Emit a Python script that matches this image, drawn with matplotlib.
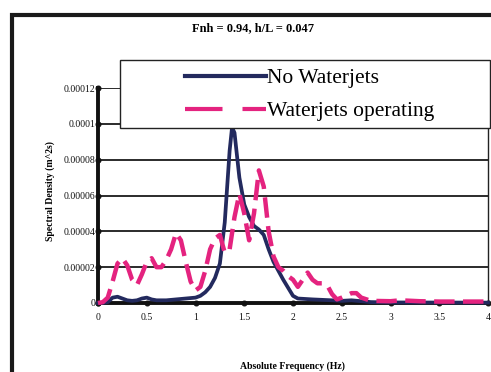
import matplotlib
matplotlib.use("Agg")
import matplotlib.pyplot as plt
from matplotlib.lines import Line2D
from matplotlib.patches import Rectangle

plt.rcParams['font.family'] = ['Liberation Serif', 'DejaVu Serif']

# Spectral density without waterjets
freq_no = [0.0, 0.05, 0.1, 0.15, 0.2, 0.25, 0.3, 0.35, 0.4, 0.45, 0.5, 0.55,
           0.6, 0.7, 0.8, 0.9, 1.0, 1.05, 1.1, 1.15, 1.2, 1.25, 1.3, 1.35,
           1.375, 1.4, 1.45, 1.5, 1.55, 1.6, 1.65, 1.7, 1.75, 1.8, 1.9, 2.0,
           2.05, 2.2, 2.4, 2.5, 2.6, 2.7, 2.8, 3.0, 4.0]
sd_no = [0.0, 0.0, 0.5e-6, 3.0e-6, 3.5e-6, 2.5e-6, 1.5e-6, 1.2e-6, 1.5e-6,
         2.5e-6, 3.0e-6, 2.0e-6, 1.5e-6, 1.5e-6, 2.0e-6, 2.5e-6, 3.0e-6,
         4.0e-6, 6.0e-6, 9.0e-6, 1.4e-5, 2.2e-5, 4.5e-5, 8.5e-5, 9.8e-5,
         9.5e-5, 7.0e-5, 5.5e-5, 4.8e-5, 4.3e-5, 4.1e-5, 3.8e-5, 3.0e-5,
         2.3e-5, 1.3e-5, 4.0e-6, 2.5e-6, 2.0e-6, 1.5e-6, 1.2e-6, 1.5e-6,
         1.0e-6, 0.5e-6, 0.3e-6, 0.2e-6]

# Spectral density with waterjets operating
freq_wj = [0.0, 0.05, 0.1, 0.15, 0.2, 0.25, 0.3, 0.35, 0.4, 0.45, 0.5, 0.55,
           0.6, 0.65, 0.7, 0.75, 0.8, 0.85, 0.9, 0.95, 1.0, 1.05, 1.1, 1.15,
           1.2, 1.25, 1.3, 1.35, 1.4, 1.45, 1.5, 1.55, 1.6, 1.65, 1.7, 1.75,
           1.8, 1.85, 1.9, 1.95, 2.0, 2.05, 2.1, 2.15, 2.2, 2.25, 2.3, 2.35,
           2.4, 2.45, 2.5, 2.6, 2.65, 2.7, 2.8, 3.0, 3.1, 3.3, 3.5, 4.0]
sd_wj = [0.0, 0.5e-6, 3.0e-6, 1.2e-5, 2.2e-5, 2.5e-5, 2.1e-5, 1.3e-5, 1.0e-5,
         1.6e-5, 2.3e-5, 2.5e-5, 2.0e-5, 2.0e-5, 2.4e-5, 3.0e-5, 3.9e-5,
         3.5e-5, 2.3e-5, 1.2e-5, 7.0e-6, 9.0e-6, 1.8e-5, 3.0e-5, 3.6e-5,
         3.8e-5, 2.8e-5, 3.0e-5, 4.8e-5, 6.1e-5, 5.0e-5, 3.5e-5, 5.0e-5,
         7.4e-5, 6.5e-5, 4.0e-5, 2.6e-5, 2.0e-5, 1.8e-5, 1.5e-5, 1.3e-5,
         9.0e-6, 1.3e-5, 1.7e-5, 1.3e-5, 1.1e-5, 1.1e-5, 1.0e-5, 5.0e-6,
         2.0e-6, 3.0e-6, 5.5e-6, 5.5e-6, 3.0e-6, 1.2e-6, 1.0e-6, 1.5e-6,
         1.0e-6, 0.8e-6, 0.8e-6]

x_ticks = [0, 0.5, 1, 1.5, 2, 2.5, 3, 3.5, 4]
x_tick_labels = ['0', '0.5', '1', '1.5', '2', '2.5', '3', '3.5', '4']
y_ticks = [0, 0.00002, 0.00004, 0.00006, 0.00008, 0.0001, 0.00012]
y_tick_labels = ['0', '0.00002', '0.00004', '0.00006', '0.00008', '0.0001', '0.00012']

title = 'Fnh = 0.94, h/L = 0.047'
x_label = 'Absolute Frequency (Hz)'
y_label = 'Spectral Density (m^2s)'
labels = ['No Waterjets', 'Waterjets operating']

navy = '#232a5e'
pink = '#e4237f'

W, H = 491, 372
fig = plt.figure(figsize=(W / 100, H / 100), dpi=100)
fig.patch.set_facecolor('white')

ax = fig.add_axes([98 / W, 1 - 303 / H, 390 / W, 215 / H])
ax.set_xlim(0, 4)
ax.set_ylim(0, 0.00012)

ax.grid(axis='y', color='#1a1a1a', lw=1.3, zorder=1)
ax.set_axisbelow(True)

ax.plot(freq_no, sd_no, color=navy, lw=2.7, solid_joinstyle='round', zorder=3,
        clip_on=False)
ax.plot(freq_wj, sd_wj, color=pink, lw=3.2, dashes=(4.6, 1.9), zorder=4,
        clip_on=False)

ax.set_xticks(x_ticks)
ax.set_xticklabels(x_tick_labels)
ax.set_yticks(y_ticks)
ax.set_yticklabels(y_tick_labels)
ax.tick_params(axis='both', labelsize=7, length=0, colors='#111111')
ax.tick_params(axis='x', pad=7)
ax.tick_params(axis='y', pad=2)
for t in ax.xaxis.get_major_ticks() + ax.yaxis.get_major_ticks():
    t.tick1line.set_marker('o')
    t.tick1line.set_markersize(3.5)
    t.tick1line.set_markerfacecolor('#111111')
    t.tick1line.set_markeredgecolor('#111111')

for side in ('left', 'bottom'):
    ax.spines[side].set_linewidth(2.8)
    ax.spines[side].set_color('#111111')
ax.spines['top'].set_visible(False)
ax.spines['right'].set_linewidth(1.0)
ax.spines['right'].set_color('#222222')

fig.text(253 / W, 1 - 28 / H, title, ha='center', va='center',
         fontsize=9, fontweight='bold')
fig.text(292 / W, 1 - 366 / H, x_label, ha='center', va='center',
         fontsize=7, fontweight='bold')
fig.text(50 / W, 1 - 191 / H, y_label, ha='center', va='center',
         rotation=90, fontsize=7, fontweight='bold')

# outer frame around the chart
fig.add_artist(Rectangle((11.5 / W, -0.2), 1.5, 1.2 - 14.5 / H,
                         transform=fig.transFigure, fill=False,
                         lw=3.0, edgecolor='#1a1a1a', zorder=2))

# legend box
fig.add_artist(Rectangle((120 / W, 1 - 128 / H), 370 / W, 68 / H,
                         transform=fig.transFigure, facecolor='white',
                         edgecolor='#222222', lw=1.0, zorder=6))
handles = [Line2D([], [], color=navy, lw=3.0),
           Line2D([], [], color=pink, lw=3.0, dashes=(9.0, 4.8))]
leg = fig.legend(handles, labels, loc='upper left',
                 bbox_to_anchor=(185 / W, 1 - 68 / H), frameon=False,
                 fontsize=15.5, handlelength=3.75, handletextpad=0.08,
                 labelspacing=0.62, borderpad=0, borderaxespad=0)
leg.set_zorder(7)

fig.savefig('out.png', dpi=100, facecolor='white')
